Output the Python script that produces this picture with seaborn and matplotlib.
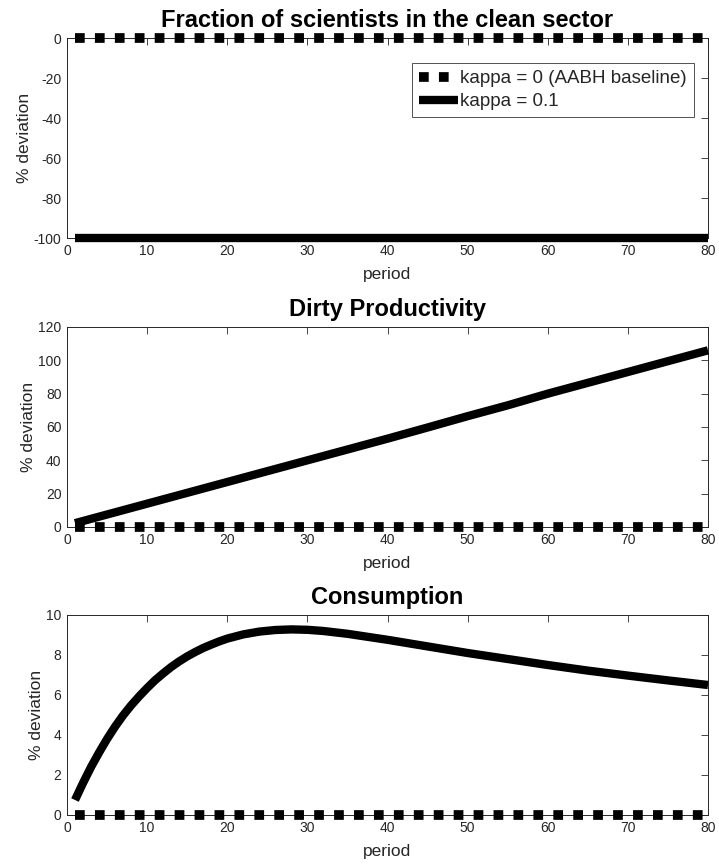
import numpy as np
import pandas as pd
import matplotlib
matplotlib.use("Agg")
import matplotlib.pyplot as plt
import seaborn as sns

sns.set_theme(style="white")
plt.rcParams['font.family'] = ['Liberation Sans', 'DejaVu Sans']
plt.rcParams['axes.unicode_minus'] = False

# ---- data ----
titles = ["Fraction of scientists in the clean sector", "Dirty Productivity", "Consumption"]
legend_labels = ["kappa = 0 (AABH baseline)", "kappa = 0.1"]

baseline_periods = [1, 80]
baseline_values = [0, 0]

scientists_periods = [1, 80]
scientists_values = [-100, -100]

dirty_periods = [1, 5, 10, 15, 20, 25, 30, 35, 40, 45, 50, 55, 60, 65, 70, 75, 80]
dirty_values = [2.3, 7.5, 14.0, 20.5, 27.0, 33.5, 40.0, 46.5, 53.0, 59.7, 66.5, 73.0, 80.0,
                86.5, 93.0, 99.5, 106.0]

cons_periods = [1, 2, 3, 4, 5, 6, 7, 8, 9, 10, 11, 12, 13, 14, 15, 16, 17, 18, 19, 20,
                22, 24, 26, 28, 30, 32, 35, 40, 45, 50, 55, 60, 65, 70, 75, 80]
cons_values = [0.75, 1.6, 2.4, 3.12, 3.8, 4.42, 4.98, 5.48, 5.93, 6.35, 6.74, 7.08, 7.4,
               7.68, 7.93, 8.15, 8.35, 8.52, 8.68, 8.82, 9.03, 9.17, 9.25, 9.28, 9.26,
               9.2, 9.06, 8.76, 8.43, 8.1, 7.8, 7.5, 7.22, 6.97, 6.73, 6.5]

ylims = [(-100, 0), (0, 120), (0, 10)]
yticks = [list(range(-100, 1, 20)), list(range(0, 121, 20)), list(range(0, 11, 2))]
xticks = list(range(0, 81, 10))

panels = [
    pd.DataFrame({"period": scientists_periods, "value": scientists_values}),
    pd.DataFrame({"period": dirty_periods, "value": dirty_values}),
    pd.DataFrame({"period": cons_periods, "value": cons_values}),
]
base_df = pd.DataFrame({"period": baseline_periods, "value": baseline_values})

fig = plt.figure(figsize=(7.19, 8.66), dpi=100)
left, width = 67 / 719, (708 - 67) / 719
tops = [38, 327, 615]
h = 200
tc = "#262626"

for i, (df, top) in enumerate(zip(panels, tops)):
    ax = fig.add_axes([left, 1 - (top + h) / 866, width, h / 866])
    sns.lineplot(data=base_df, x="period", y="value", ax=ax, color="black",
                 lw=7.0, linestyle=(0, (1, 1.05)), dash_capstyle="butt",
                 clip_on=False, label=legend_labels[0], zorder=3)
    sns.lineplot(data=df, x="period", y="value", ax=ax, color="black",
                 lw=6, solid_capstyle="butt", clip_on=False,
                 label=legend_labels[1], zorder=4)
    ax.set_xlim(0, 80)
    ax.set_ylim(*ylims[i])
    ax.set_xticks(xticks)
    ax.set_yticks(yticks[i])
    ax.set_title(titles[i], fontsize=17, fontweight="bold", pad=8, color="black")
    ax.set_xlabel("period", fontsize=12.5, color=tc, labelpad=7)
    ax.set_ylabel("% deviation", fontsize=12.5, color=tc, labelpad=1.5)
    ax.tick_params(direction="in", top=True, right=True, length=5, width=0.6,
                   labelsize=10, colors=tc, pad=4)
    for s in ax.spines.values():
        s.set_color(tc)
        s.set_linewidth(0.7)
        s.set_visible(True)
    if i == 0:
        leg = ax.legend(loc="upper right", bbox_to_anchor=(0.978, 0.875),
                        fontsize=13.5, frameon=True, fancybox=False,
                        handlelength=2.1, handletextpad=0.1, borderpad=0.38,
                        labelspacing=0.31, borderaxespad=0)
        leg.get_frame().set_edgecolor(tc)
        leg.get_frame().set_linewidth(0.7)
    else:
        ax.get_legend().remove()

fig.savefig("out.png", dpi=100)
